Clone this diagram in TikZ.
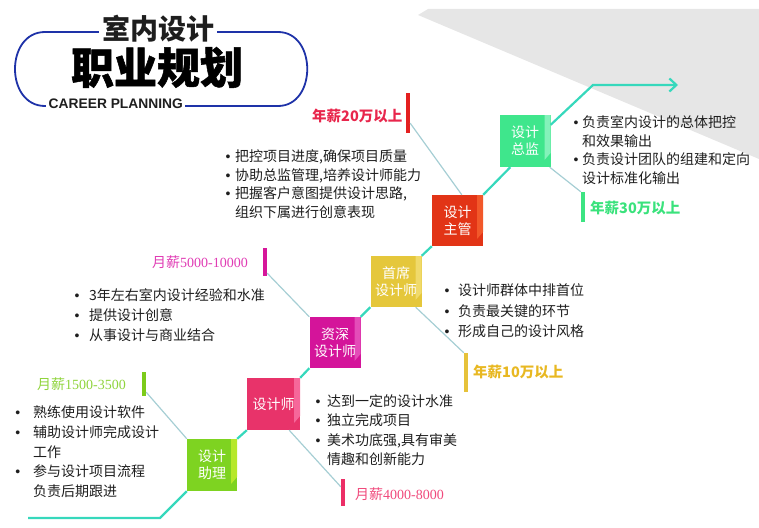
\documentclass[tikz,border=0pt]{standalone}
\usepackage{fontspec}
\setmainfont{Noto Sans CJK SC}
\newfontfamily\numserif{Liberation Serif}
\newfontfamily\latinsans{Liberation Sans}
\newfontfamily\heavycjk[BoldFeatures={FakeBold=1.2}]{Noto Sans CJK SC}
\usetikzlibrary{arrows.meta}
\definecolor{framecol}{HTML}{1E32A8}
\definecolor{graybg}{HTML}{E6E6E6}
\definecolor{linecol}{HTML}{36D8BC}
\definecolor{guidecol}{HTML}{A6CED4}
\definecolor{txtcol}{HTML}{1E1E1E}
\definecolor{czl}{HTML}{7ED321}\definecolor{czlS}{HTML}{B6E82A}
\definecolor{csj}{HTML}{E8336A}\definecolor{csjS}{HTML}{F6679A}
\definecolor{czs}{HTML}{D4149A}\definecolor{czsS}{HTML}{E44CB8}
\definecolor{csx}{HTML}{E5C73B}\definecolor{csxS}{HTML}{F0DA6A}
\definecolor{czg}{HTML}{E23416}\definecolor{czgS}{HTML}{F2582A}
\definecolor{czj}{HTML}{3FE68C}\definecolor{czjS}{HTML}{84F2BA}
\definecolor{pzl}{HTML}{8FD43C}
\definecolor{psj}{HTML}{F04A7C}
\definecolor{pzs}{HTML}{E03CB4}
\definecolor{psx}{HTML}{E8B822}
\definecolor{pzg}{HTML}{E8264C}
\definecolor{pzj}{HTML}{3AE27C}
\definecolor{bzl}{HTML}{7CCB1A}
\definecolor{bsj}{HTML}{EC2E66}
\definecolor{bzs}{HTML}{D6169A}
\definecolor{bsx}{HTML}{E6C23A}
\definecolor{bzg}{HTML}{E42020}
\definecolor{bzj}{HTML}{3CE482}
\newlength\bulw
\newcommand\bitem[1]{\makebox[\bulw][l]{\latinsans •}#1}
\newcommand\citem[1]{\hspace*{\bulw}#1}
\tikzset{
  box/.style n args={2}{rectangle, inner sep=0pt, minimum width=51pt, minimum height=52pt,
    text=white, align=center, font=\fontsize{14}{17}\selectfont, fill=#1,
    path picture={\fill[#2] ([xshift=-6pt]path picture bounding box.north east)
      -- (path picture bounding box.north east)
      -- ([yshift=14pt]path picture bounding box.south east)
      -- ([xshift=-6pt,yshift=7pt]path picture bounding box.south east) -- cycle;}},
  mainline/.style={draw=linecol, line width=2.2pt},
  guide/.style={draw=guidecol, line width=1.2pt},
  bar/.style={rectangle, inner sep=0pt, minimum width=4pt, fill=#1},
  lst/.style={anchor=north west, inner sep=0pt, text=txtcol},
  paylow/.style={anchor=west, inner sep=0pt, text=#1, font=\fontsize{14}{14}\selectfont},
  payhigh/.style={anchor=west, inner sep=0pt, text=#1, font=\bfseries\fontsize{14.5}{15}\selectfont},
}
\begin{document}
\begin{tikzpicture}[x=1pt,y=-1pt]
\useasboundingbox (0,0) rectangle (759,527);
\fill[graybg] (418,15) -- (428,9) -- (759,9) -- (759,159) -- cycle;

% title frame
\draw[framecol, line width=1.8pt] (45,32) -- (278,32) .. controls (317,32) and (317,106) .. (278,106) -- (45,106) .. controls (5,106) and (5,32) .. cycle;
\node[fill=white, inner xsep=3pt, inner ysep=1pt, font=\bfseries\fontsize{28}{28}\selectfont, text=txtcol] (t1) at (158,29) {室内设计};
\node[inner sep=0pt, font=\heavycjk\bfseries\fontsize{43}{43}\selectfont, text=black] (t2) at (157,67.5) {职业规划};
\node[fill=white, inner xsep=2.5pt, inner ysep=1pt, anchor=base west, font=\latinsans\bfseries\fontsize{13.8}{14}\selectfont, text=txtcol] (t3) at (46,108.3) {CAREER PLANNING};

% boxes
\node[box={czl}{czlS}, minimum width=50pt] (zl) at (212,465) {设计\\助理};
\node[box={csj}{csjS}, minimum width=53pt] (sj) at (273.5,404) {设计师};
\node[box={czs}{czsS}, minimum height=51pt] (zs) at (335,342.5) {资深\\设计师};
\node[box={csx}{csxS}, minimum height=51pt] (sx) at (396,281.5) {首席\\设计师};
\node[box={czg}{czgS}, minimum height=51pt] (zg) at (457.5,220.5) {设计\\主管};
\node[box={czj}{czjS}] (zj) at (525,141) {设计\\总监};

% main zigzag line
\coordinate (s0) at (28,518);
\coordinate (s1) at (160,518);
\coordinate (a1) at (593,85);
\coordinate (a2) at (678,85);
\draw[mainline] (s0) -- (s1) -- (zl.south west);
\draw[mainline] (zl.north east) -- (sj.south west);
\draw[mainline] (sj.north east) -- (zs.south west);
\draw[mainline] (zs.north east) -- (sx.south west);
\draw[mainline] (sx.north east) -- (zg.south west);
\draw[mainline] (zg.north east) -- ([xshift=11pt]zj.south west);
\draw[mainline, -{Straight Barb[length=7pt,width=13pt]}] ([yshift=-10pt]zj.north east) -- (a1) -- (a2);

% salary bars
\node[bar=bzl, minimum height=24pt] (b1) at (144,384) {};
\node[bar=bsj, minimum height=27pt] (b2) at (343,492.5) {};
\node[bar=bzs, minimum height=28pt] (b3) at (265,262) {};
\node[bar=bsx, minimum height=39pt] (b4) at (466,372.5) {};
\node[bar=bzg, minimum height=40pt] (b5) at (408,113) {};
\node[bar=bzj, minimum height=30pt] (b6) at (583,207) {};

% guide lines
\draw[guide] ([yshift=4pt]b1.south east) -- (zl.north west);
\draw[guide] ([xshift=-11pt]sj.south east) -- ([yshift=-8pt]b2.north west);
\draw[guide] ([yshift=3pt]b3.south east) -- (zs.north west);
\draw[guide] ([xshift=-6pt]sx.south east) -- (b4.north west);
\draw[guide] ([yshift=10pt]b5.south east) -- ([xshift=30pt]zg.north west);
\draw[guide] ([xshift=-1pt]zj.south east) -- (b6.north west);

% salary labels
\node[paylow=pzl] (p1) at (37,384) {月薪{\numserif 1500-3500}};
\node[paylow=psj] (p2) at (355,494) {月薪{\numserif 4000-8000}};
\node[paylow=pzs] (p3) at (152,262) {月薪{\numserif 5000-10000}};
\node[payhigh=psx] (p4) at (473,372) {年薪10万以上};
\node[payhigh=pzg] (p5) at (312,116) {年薪20万以上};
\node[payhigh=pzj] (p6) at (590,208) {年薪30万以上};

% bullet lists
\node[lst] (L1) at (225.5,148.2) {\setlength\bulw{9.5pt}\def\arraystretch{1}\fontsize{14}{18.7}\selectfont
  \begin{tabular}{@{}l@{}}\bitem{把控项目进度,确保项目质量}\\\bitem{协助总监管理,培养设计师能力}\\\bitem{把握客户意图提供设计思路,}\\\citem{组织下属进行创意表现}\end{tabular}};
\node[lst] (L2) at (573.5,114.2) {\setlength\bulw{8.5pt}\def\arraystretch{1}\fontsize{14}{18.7}\selectfont
  \begin{tabular}{@{}l@{}}\bitem{负责室内设计的总体把控}\\\citem{和效果输出}\\\bitem{负责设计团队的组建和定向}\\\citem{设计标准化输出}\end{tabular}};
\node[lst] (L3) at (74.5,286.3) {\setlength\bulw{14.5pt}\def\arraystretch{1}\fontsize{14}{20}\selectfont
  \begin{tabular}{@{}l@{}}\bitem{3年左右室内设计经验和水准}\\\bitem{提供设计创意}\\\bitem{从事设计与商业结合}\end{tabular}};
\node[lst] (L4) at (444.5,281) {\setlength\bulw{13.5pt}\def\arraystretch{1}\fontsize{14}{20.5}\selectfont
  \begin{tabular}{@{}l@{}}\bitem{设计师群体中排首位}\\\bitem{负责最关键的环节}\\\bitem{形成自己的设计风格}\end{tabular}};
\node[lst] (L5) at (315.5,392.7) {\setlength\bulw{11.5pt}\def\arraystretch{1}\fontsize{14}{19.4}\selectfont
  \begin{tabular}{@{}l@{}}\bitem{达到一定的设计水准}\\\bitem{独立完成项目}\\\bitem{美术功底强,具有审美}\\\citem{情趣和创新能力}\end{tabular}};
\node[lst] (L6) at (15.2,403.5) {\setlength\bulw{17.8pt}\def\arraystretch{1}\fontsize{14}{19.75}\selectfont
  \begin{tabular}{@{}l@{}}\bitem{熟练使用设计软件}\\\bitem{辅助设计师完成设计}\\\citem{工作}\\\bitem{参与设计项目流程}\\\citem{负责后期跟进}\end{tabular}};
\end{tikzpicture}
\end{document}
